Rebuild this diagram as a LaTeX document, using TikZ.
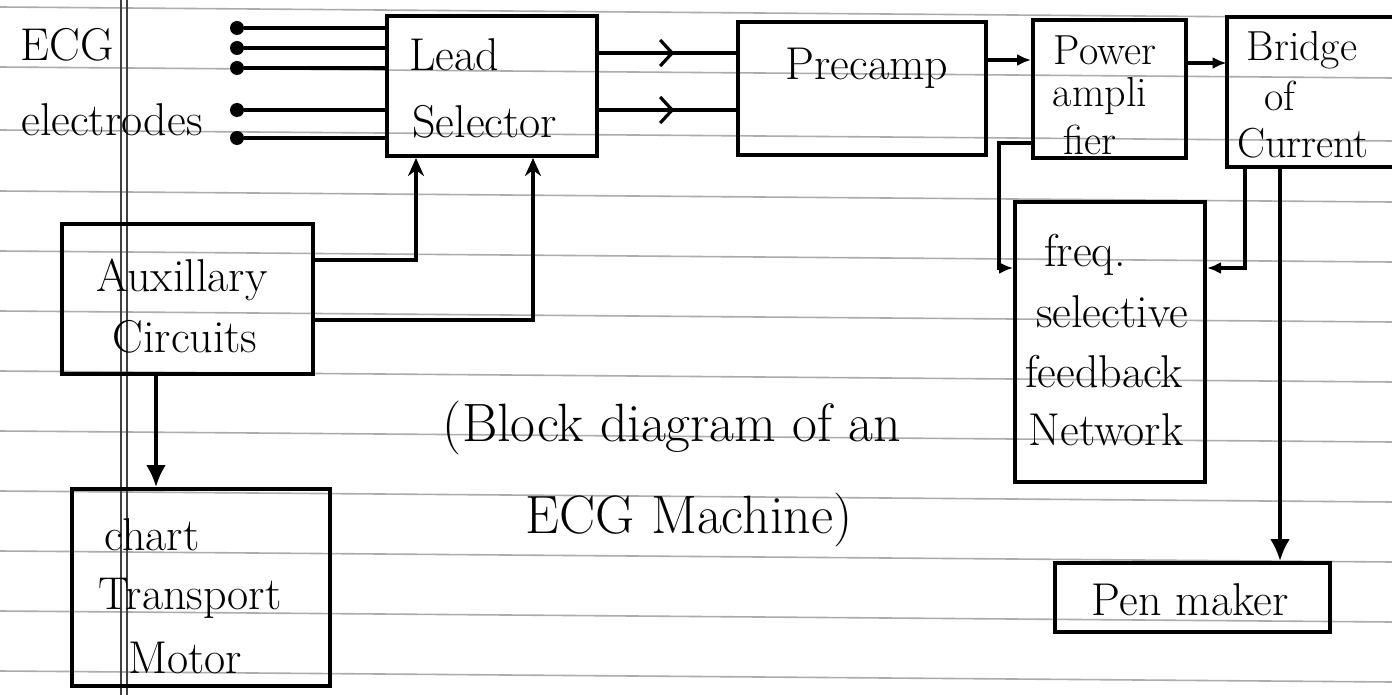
\documentclass[tikz,border=0pt]{standalone}
\usetikzlibrary{arrows.meta,fit,decorations.markings}
\begin{document}
\begin{tikzpicture}[x=0.5pt,y=-0.5pt,
  box/.style={draw, line width=2pt, inner sep=0pt},
  openbox/.style={inner sep=0pt},
  lbl/.style={inner sep=0pt, font=\fontsize{23}{27}\selectfont},
  slbl/.style={inner sep=0pt, font=\fontsize{21}{25}\selectfont},
  captxt/.style={inner sep=0pt, font=\fontsize{27}{32}\selectfont},
  wire/.style={line width=1.8pt},
  thickwire/.style={line width=2.3pt},
  arr/.style={wire, -{Latex[length=7pt,width=6pt]}},
  bigarr/.style={wire, -{Latex[length=11pt,width=10pt]}},
  upar/.style={wire, -{Stealth[length=9pt,width=8pt]}},
  midbarb/.style={wire, decoration={markings, mark=at position 0.55 with {\arrow{Straight Barb[length=6pt,width=13pt,line width=1.6pt]}}}, postaction={decorate}},
  dot/.style={circle, fill, inner sep=0pt, minimum size=7pt},
  paperrule/.style={gray!65, line width=0.8pt},
  margin/.style={black!75, line width=1pt}]

\fill[white] (0,0) rectangle (1392,695);
\useasboundingbox (0,0) rectangle (1392,695);

% ruled notebook paper
\foreach \yy in {12,72,135,196,256,316,376,436,496,556,616,676}
  \draw[paperrule] (0,{\yy-5}) -- (1392,{\yy+6});
\draw[margin] (121,0) -- (121,695);
\draw[margin] (127,0) -- (127,695);

% blocks
\node[box, fit={(387,16) (597,156)}] (lead) {};
\node[box, fit={(738,22) (986,155)}] (pre) {};
\node[box, fit={(1033,20) (1186,158)}] (pow) {};
\node[openbox, fit={(1227,17) (1392,167)}] (bridge) {};
\draw[line width=2pt] (bridge.north east) -- (bridge.north west) -- (bridge.south west) -- (bridge.south east);
\node[box, fit={(1015,202) (1205,482)}] (fb) {};
\node[box, fit={(62,224) (313,374)}] (aux) {};
\node[box, fit={(72,489) (330,686)}] (chart) {};
\node[box, fit={(1055,563) (1330,632)}] (pen) {};

% labels
\node[lbl] (tecg) at (67,45) {ECG};
\node[lbl] (telec) at (112,120) {electrodes};
\node[lbl, anchor=west] (tlead) at (409,55) {Lead};
\node[lbl, anchor=west] (tsel) at (412,122) {Selector};
\node[lbl] (tpre) at (867,68) {Precamp};
\node[slbl] (tpow1) at (1105,50) {Power};
\node[slbl] (tpow2) at (1100,96) {ampli};
\node[slbl] (tpow3) at (1090,140) {fier};
\node[slbl] (tbr1) at (1302,50) {Bridge};
\node[slbl] (tbr2) at (1280,96) {of};
\node[slbl] (tbr3) at (1303,143) {Current};
\node[lbl] (tfb1) at (1085,255) {freq.};
\node[lbl] (tfb2) at (1112,312) {selective};
\node[lbl] (tfb3) at (1104,372) {feedback};
\node[lbl] (tfb4) at (1106,430) {Network};
\node[lbl] (taux1) at (182,280) {Auxillary};
\node[lbl] (taux2) at (185,337) {Circuits};
\node[lbl] (tch1) at (152,535) {chart};
\node[lbl] (tch2) at (190,598) {Transport};
\node[lbl] (tch3) at (185,658) {Motor};
\node[lbl] (tpen) at (1190,600) {Pen maker};
\node[captxt] (cap1) at (672,428) {(Block diagram of an};
\node[captxt] (cap2) at (689,520) {ECG Machine)};

% electrodes
\foreach \n/\yy in {1/28,2/48,3/68,4/110,5/138}{
  \node[dot] (e\n) at (237,\yy) {};
  \draw[thickwire] (e\n) -- (e\n -| lead.west);
}

% helper coordinates for connector heights / columns
\coordinate (h53) at (0,53);
\coordinate (h110) at (0,110);
\coordinate (h60) at (0,60);
\coordinate (h63) at (0,63);
\coordinate (h143) at (0,143);
\coordinate (h268) at (0,268);
\coordinate (h260) at (0,260);
\coordinate (h320) at (0,320);
\coordinate (loopL) at (999,0);
\coordinate (loopR) at (1245,0);
\coordinate (penx) at (1280,0);
\coordinate (c1) at (416,0);
\coordinate (c2) at (533,0);
\coordinate (c3) at (156,0);

% connectors
\draw[midbarb] (lead.east |- h53) -- (pre.west |- h53);
\draw[midbarb] (lead.east |- h110) -- (pre.west |- h110);
\draw[arr] (pre.east |- h60) -- (pow.west |- h60);
\draw[arr] (pow.east |- h63) -- (bridge.west |- h63);
\draw[arr] (pow.west |- h143) -- (loopL |- h143) -- (loopL |- h268) -- (fb.west |- h268);
\draw[arr] (bridge.south -| loopR) -- (loopR |- h268) -- (fb.east |- h268);
\draw[bigarr] (bridge.south -| penx) -- (pen.north -| penx);
\draw[upar] (aux.east |- h260) -| (lead.south -| c1);
\draw[upar] (aux.east |- h320) -| (lead.south -| c2);
\draw[bigarr] (aux.south -| c3) -- (chart.north -| c3);
\end{tikzpicture}
\end{document}
